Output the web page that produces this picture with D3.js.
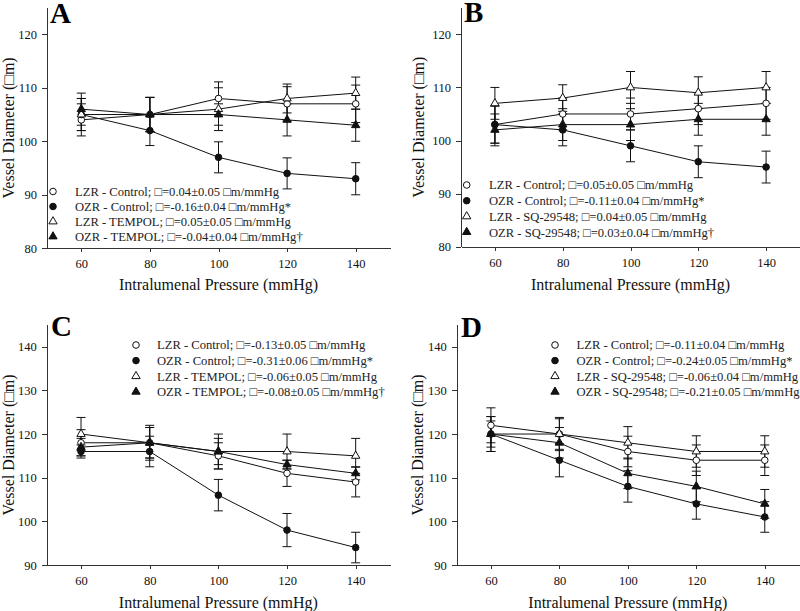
<!DOCTYPE html>
<html>
<head>
<meta charset="utf-8">
<title>vessel diameter panels</title>
<script src="https://cdn.jsdelivr.net/npm/d3@7"></script>
<style>
  body { margin: 0; background: #fff; }
  svg { display: block; font-family: "Liberation Serif", "Times New Roman", serif; }
  .axis path, .axis line { stroke: #333; stroke-width: 1px; shape-rendering: crispEdges; }
  .axis text { fill: #111; font-size: 12.5px; font-family: "Liberation Serif", serif; }
  .trend { fill: none; stroke: #111; stroke-width: 1px; }
  .err { stroke: #111; stroke-width: 1px; fill: none; }
  .legend text { font-size: 12.6px; fill: #222; }
  .title { font-size: 16px; fill: #111; }
  .letter { font-size: 29px; font-weight: bold; fill: #000; }
</style>
</head>
<body>
<svg id="chart" width="800" height="611"></svg>
<script>
const pressure = [60, 80, 100, 120, 140];
const yTicksAB = [80, 90, 100, 110, 120];
const yTicksCD = [90, 100, 110, 120, 130, 140];

// panel A (TEMPOL)
const A_lzrControl = [104, 105, 108, 107, 107];
const A_lzrControlErr = [3, 3.2, 3.1, 3.2, 3.5];
const A_ozrControl = [105, 102, 97, 94, 93];
const A_ozrControlErr = [3, 2.8, 2.9, 2.9, 3];
const A_lzrDrug = [105, 105, 106, 108, 109];
const A_lzrDrugErr = [3, 3.2, 4, 2.7, 3];
const A_ozrDrug = [106, 105, 105, 104, 103];
const A_ozrDrugErr = [3, 3.2, 2, 3, 3];
const A_labels = [
  "LZR - Control; \u25A1=0.04\u00B10.05 \u25A1m/mmHg",
  "OZR - Control; \u25A1=-0.16\u00B10.04 \u25A1m/mmHg*",
  "LZR - TEMPOL; \u25A1=0.05\u00B10.05 \u25A1m/mmHg",
  "OZR - TEMPOL; \u25A1=-0.04\u00B10.04 \u25A1m/mmHg\u2020"
];

// panel B (SQ-29548)
const B_lzrControl = [103, 105, 105, 106, 107];
const B_lzrControlErr = [3.5, 3, 3, 3, 3];
const B_ozrControl = [103, 102, 99, 96, 95];
const B_ozrControlErr = [3.5, 3, 3, 3, 3];
const B_lzrDrug = [107, 108, 110, 109, 110];
const B_lzrDrugErr = [3, 2.5, 3, 3, 3];
const B_ozrDrug = [102, 103, 103, 104, 104];
const B_ozrDrugErr = [3, 3, 3, 3, 3];
const B_labels = [
  "LZR - Control; \u25A1=0.05\u00B10.05 \u25A1m/mmHg",
  "OZR - Control; \u25A1=-0.11\u00B10.04 \u25A1m/mmHg*",
  "LZR - SQ-29548; \u25A1=0.04\u00B10.05 \u25A1m/mmHg",
  "OZR - SQ-29548; \u25A1=0.03\u00B10.04 \u25A1m/mmHg\u2020"
];

// panel C (TEMPOL)
const C_lzrControl = [118, 118, 115, 111, 109];
const C_lzrControlErr = [3, 3.5, 3, 3, 3.4];
const C_ozrControl = [116, 116, 106, 98, 94];
const C_ozrControlErr = [1.5, 3.5, 3.6, 3.8, 3.5];
const C_lzrDrug = [120, 118, 116, 116, 115];
const C_lzrDrugErr = [3.8, 4, 4, 4, 4];
const C_ozrDrug = [117, 118, 116, 113, 111];
const C_ozrDrugErr = [2, 3.5, 3, 1, 1.5];
const C_labels = [
  "LZR - Control; \u25A1=-0.13\u00B10.05 \u25A1m/mmHg",
  "OZR - Control; \u25A1=-0.31\u00B10.06 \u25A1m/mmHg*",
  "LZR - TEMPOL; \u25A1=-0.06\u00B10.05 \u25A1m/mmHg",
  "OZR - TEMPOL; \u25A1=-0.08\u00B10.05 \u25A1m/mmHg\u2020"
];

// panel D (SQ-29548)
const D_lzrControl = [122, 120, 116, 114, 114];
const D_lzrControlErr = [4, 3.5, 3.5, 3.5, 3.5];
const D_ozrControl = [120, 114, 108, 104, 101];
const D_ozrControlErr = [4, 3.8, 3.6, 3.5, 3.5];
const D_lzrDrug = [120, 120, 118, 116, 116];
const D_lzrDrugErr = [4, 3.8, 3.7, 3.6, 3.6];
const D_ozrDrug = [120, 118, 111, 108, 104];
const D_ozrDrugErr = [3, 3.5, 3.5, 3.5, 3.3];
const D_labels = [
  "LZR - Control; \u25A1=-0.11\u00B10.04 \u25A1m/mmHg",
  "OZR - Control; \u25A1=-0.24\u00B10.05 \u25A1m/mmHg*",
  "LZR - SQ-29548; \u25A1=-0.06\u00B10.04 \u25A1m/mmHg",
  "OZR - SQ-29548; \u25A1=-0.21\u00B10.05 \u25A1m/mmHg"
];

// marker style per series: open circle, filled circle, open triangle, filled triangle
const markers = [
  {shape: "circle", fill: "#fff"},
  {shape: "circle", fill: "#111"},
  {shape: "triangle", fill: "#fff"},
  {shape: "triangle", fill: "#111"}
];

const panels = [
  {letter: "A", x0: 47, x1: 390, y0: 248.3, y1: 7.5, dom: [80, 125], ticks: yTicksAB,
   series: [[A_lzrControl, A_lzrControlErr], [A_ozrControl, A_ozrControlErr], [A_lzrDrug, A_lzrDrugErr], [A_ozrDrug, A_ozrDrugErr]],
   labels: A_labels, leg: {mx: 53, tx: 75, y: 191.5, dy: 15}, letterPos: [50, 23], titleX: 14, xTitleY: 290},
  {letter: "B", x0: 461, x1: 800, y0: 246.7, y1: 7.8, dom: [80, 125], ticks: yTicksAB,
   series: [[B_lzrControl, B_lzrControlErr], [B_ozrControl, B_ozrControlErr], [B_lzrDrug, B_lzrDrugErr], [B_ozrDrug, B_ozrDrugErr]],
   labels: B_labels, leg: {mx: 466.7, tx: 489, y: 185, dy: 15.7}, letterPos: [464, 22], titleX: 424, xTitleY: 290},
  {letter: "C", x0: 46.7, x1: 390, y0: 565, y1: 324.9, dom: [90, 145], ticks: yTicksCD,
   series: [[C_lzrControl, C_lzrControlErr], [C_ozrControl, C_ozrControlErr], [C_lzrDrug, C_lzrDrugErr], [C_ozrDrug, C_ozrDrugErr]],
   labels: C_labels, leg: {mx: 136, tx: 157, y: 345, dy: 15.6}, letterPos: [51, 336], titleX: 14, xTitleY: 608},
  {letter: "D", x0: 456.7, x1: 799, y0: 565, y1: 324.9, dom: [90, 145], ticks: yTicksCD,
   series: [[D_lzrControl, D_lzrControlErr], [D_ozrControl, D_ozrControlErr], [D_lzrDrug, D_lzrDrugErr], [D_ozrDrug, D_ozrDrugErr]],
   labels: D_labels, leg: {mx: 555, tx: 576.5, y: 345, dy: 15.6}, letterPos: [461, 337], titleX: 423, xTitleY: 608}
];

const svg = d3.select("#chart");

function drawMarker(g, m, cx, cy) {
  if (m.shape === "circle") {
    g.append("circle").attr("cx", cx).attr("cy", cy).attr("r", 3.3)
      .attr("fill", m.fill).attr("stroke", "#111").attr("stroke-width", 1);
  } else {
    g.append("path").attr("d", d3.symbol(d3.symbolTriangle, 30)())
      .attr("transform", "translate(" + cx + "," + cy + ")")
      .attr("fill", m.fill).attr("stroke", "#111").attr("stroke-width", 1);
  }
}

panels.forEach(function(p) {
  const x = d3.scaleLinear().domain([50, 150]).range([p.x0, p.x1]);
  const y = d3.scaleLinear().domain(p.dom).range([p.y0, p.y1]);
  const g = svg.append("g");

  g.append("g").attr("class", "axis")
    .attr("transform", "translate(0," + p.y0 + ")")
    .call(d3.axisBottom(x).tickValues(pressure).tickSize(4).tickSizeOuter(0).tickPadding(7));
  g.append("g").attr("class", "axis")
    .attr("transform", "translate(" + p.x0 + ",0)")
    .call(d3.axisLeft(y).tickValues(p.ticks).tickSize(5).tickSizeOuter(0).tickPadding(5));

  // error bars
  p.series.forEach(function(s) {
    const vals = s[0], errs = s[1];
    vals.forEach(function(v, i) {
      const cx = x(pressure[i]);
      const top = y(v + errs[i]), bot = y(v - errs[i]);
      g.append("path").attr("class", "err")
        .attr("d", "M" + cx + "," + top + "V" + bot +
                   "M" + (cx - 4.5) + "," + top + "H" + (cx + 4.5) +
                   "M" + (cx - 4.5) + "," + bot + "H" + (cx + 4.5));
    });
  });

  const line = d3.line().x(function(d, i) { return x(pressure[i]); }).y(function(d) { return y(d); });
  p.series.forEach(function(s) {
    g.append("path").attr("class", "trend").attr("d", line(s[0]));
  });

  p.series.forEach(function(s, k) {
    s[0].forEach(function(v, i) { drawMarker(g, markers[k], x(pressure[i]), y(v)); });
  });

  // legend
  const lg = g.append("g").attr("class", "legend");
  p.labels.forEach(function(t, k) {
    const ly = p.leg.y + k * p.leg.dy;
    drawMarker(lg, markers[k], p.leg.mx, ly);
    lg.append("text").attr("x", p.leg.tx).attr("y", ly).attr("dy", "0.35em").text(t);
  });

  g.append("text").attr("class", "title").attr("text-anchor", "middle")
    .attr("x", (p.x0 + p.x1) / 2).attr("y", p.xTitleY)
    .text("Intralumenal Pressure (mmHg)");
  g.append("text").attr("class", "title").attr("text-anchor", "middle")
    .attr("transform", "translate(" + p.titleX + "," + ((p.y0 + p.y1) / 2) + ") rotate(-90)")
    .text("Vessel Diameter (\u25A1m)");
  g.append("text").attr("class", "letter")
    .attr("x", p.letterPos[0]).attr("y", p.letterPos[1]).text(p.letter);
});
</script>
</body>
</html>
